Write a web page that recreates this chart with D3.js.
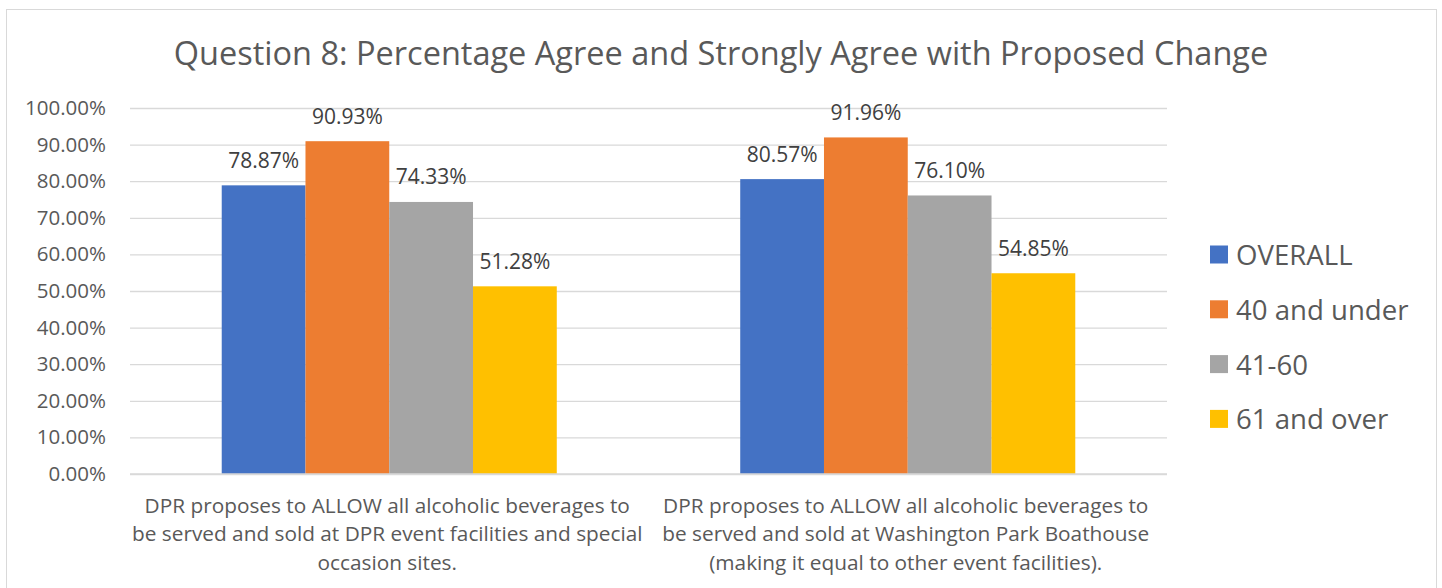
<!DOCTYPE html>
<html>
<head>
<meta charset="utf-8">
<script src="https://cdn.jsdelivr.net/npm/d3@7"></script>
<style>
  body { margin: 0; background: #fff; }
  text { font-family: "Open Sans", sans-serif; }
</style>
</head>
<body>
<div id="chart"></div>
<script>
// categories (each one already broken into lines, as in the picture)
const categories = [
  ["DPR proposes to ALLOW all alcoholic beverages to",
   "be served and sold at DPR event facilities and special",
   "occasion sites."],
  ["DPR proposes to ALLOW all alcoholic beverages to",
   "be served and sold at Washington Park Boathouse",
   "(making it equal to other event facilities)."]
];
const seriesNames = ["OVERALL", "40 and under", "41-60", "61 and over"];
const seriesColors = ["#4472C4", "#ED7D31", "#A5A5A5", "#FFC000"];
const overall = [78.87, 80.57];
const under40 = [90.93, 91.96];
const age41to60 = [74.33, 76.10];
const over61 = [51.28, 54.85];
const yTicks = [0, 10, 20, 30, 40, 50, 60, 70, 80, 90, 100];

const seriesValues = [overall, under40, age41to60, over61];

const W = 1442, H = 588;
const plot = { left: 130, right: 1167, top: 108, bottom: 474 };

const svg = d3.select("#chart").append("svg")
  .attr("width", W).attr("height", H);

// chart border
svg.append("rect")
  .attr("x", 6.5).attr("y", 9.5)
  .attr("width", 1430).attr("height", 600)
  .attr("fill", "#fff").attr("stroke", "#D9D9D9");

// title
svg.append("text")
  .attr("x", 721).attr("y", 65)
  .attr("text-anchor", "middle")
  .attr("font-size", 32.5)
  .attr("fill", "#595959")
  .text("Question 8: Percentage Agree and Strongly Agree with Proposed Change");

const y = d3.scaleLinear().domain([0, 100]).range([plot.bottom, plot.top]);
const x0 = d3.scaleBand().domain(d3.range(categories.length))
  .range([plot.left, plot.right]).paddingInner(0).paddingOuter(0);
// Excel gap width ~219%
const groupW = x0.bandwidth() * 4 / (4 + 2.19);
const x1 = d3.scaleBand().domain(d3.range(seriesNames.length))
  .range([0, groupW]).padding(0);

// gridlines + y axis labels
const yAxis = d3.axisLeft(y).tickValues(yTicks)
  .tickSize(-(plot.right - plot.left))
  .tickPadding(24)
  .tickFormat(d => d.toFixed(2) + "%");

const gy = svg.append("g")
  .attr("transform", `translate(${plot.left},0)`)
  .call(yAxis);
gy.select(".domain").remove();
gy.selectAll(".tick line").attr("stroke", "#D9D9D9").attr("stroke-width", 1.3);
gy.selectAll(".tick text")
  .attr("font-size", 20.5)
  .attr("fill", "#595959")
  .attr("font-family", "Open Sans, sans-serif");

// bars
const groups = svg.append("g").selectAll("g")
  .data(categories.map((c, i) => i))
  .enter().append("g")
  .attr("transform", i => `translate(${x0(i) + (x0.bandwidth() - groupW) / 2},0)`);

groups.selectAll("rect")
  .data(i => seriesValues.map((s, k) => ({ k: k, v: s[i] })))
  .enter().append("rect")
  .attr("x", d => x1(d.k))
  .attr("width", x1.bandwidth())
  .attr("y", d => y(d.v))
  .attr("height", d => y(0) - y(d.v))
  .attr("fill", d => seriesColors[d.k]);

groups.selectAll("text.lbl")
  .data(i => seriesValues.map((s, k) => ({ k: k, v: s[i] })))
  .enter().append("text")
  .attr("class", "lbl")
  .attr("x", d => x1(d.k) + x1.bandwidth() / 2)
  .attr("y", d => y(d.v) - 17.5)
  .attr("text-anchor", "middle")
  .attr("font-size", 21)
  .attr("fill", "#404040")
  .text(d => d.v.toFixed(2) + "%");

// baseline
svg.append("line")
  .attr("x1", plot.left).attr("x2", plot.right)
  .attr("y1", y(0)).attr("y2", y(0))
  .attr("stroke", "#D9D9D9").attr("stroke-width", 1.3);

// category labels
const catText = svg.append("g").selectAll("text")
  .data(categories)
  .enter().append("text")
  .attr("text-anchor", "middle")
  .attr("font-size", 20.8)
  .attr("fill", "#595959")
  .attr("x", (d, i) => x0(i) + x0.bandwidth() / 2 - 2);

catText.selectAll("tspan")
  .data(d => d)
  .enter().append("tspan")
  .attr("x", function () { return d3.select(this.parentNode).attr("x"); })
  .attr("y", (d, j) => 513 + j * 28.4)
  .text(d => d);

// legend
const legend = svg.append("g").selectAll("g")
  .data(seriesNames)
  .enter().append("g")
  .attr("transform", (d, i) => `translate(1210,${254.5 + i * 54.8})`);

legend.append("rect")
  .attr("x", 0).attr("y", -9)
  .attr("width", 18).attr("height", 18)
  .attr("fill", (d, i) => seriesColors[i]);

legend.append("text")
  .attr("x", 26).attr("y", 10.5)
  .attr("font-size", 27.6)
  .attr("fill", "#595959")
  .text(d => d);
</script>
</body>
</html>
